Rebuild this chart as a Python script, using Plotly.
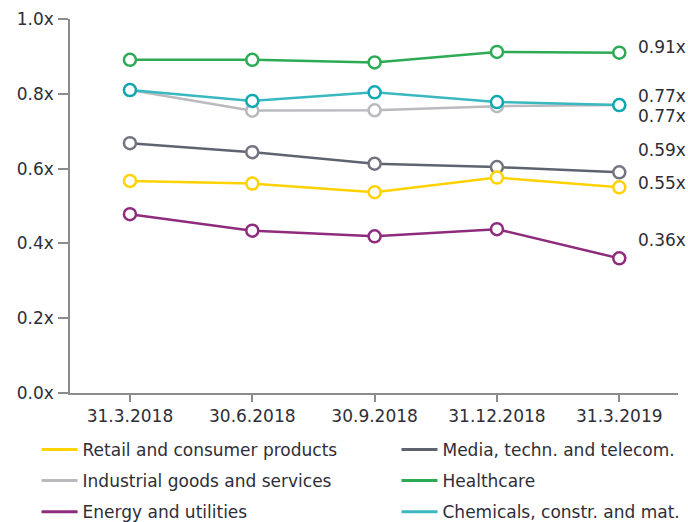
import plotly.graph_objects as go

dates = ["31.3.2018", "30.6.2018", "30.9.2018", "31.12.2018", "31.3.2019"]

retail = [0.567, 0.560, 0.537, 0.576, 0.55]
media = [0.668, 0.644, 0.613, 0.604, 0.59]
industrial = [0.810, 0.755, 0.756, 0.767, 0.77]
healthcare = [0.891, 0.891, 0.884, 0.912, 0.91]
energy = [0.478, 0.434, 0.419, 0.438, 0.36]
chemicals = [0.810, 0.781, 0.804, 0.778, 0.77]

y_ticks = [0.0, 0.2, 0.4, 0.6, 0.8, 1.0]

FONT = "DejaVu Sans"
FS = 17
TEXT = "#2e2e38"
AXIS = "#8c8c8c"

# name, values, line colour, marker colour, legend, end-label shift (px)
series = [
    ("Industrial goods and services", industrial, "#b9babe", "#b9babe", "legend", -11),
    ("Chemicals, constr. and mat.", chemicals, "#3ab8c0", "#0ea8b2", "legend2", 9),
    ("Media, techn. and telecom.", media, "#5d6470", "#747480", "legend2", 22),
    ("Retail and consumer products", retail, "#ffd200", "#ffd200", "legend", 4),
    ("Energy and utilities", energy, "#8f2b7d", "#8f2b7d", "legend", 18),
    ("Healthcare", healthcare, "#2daa54", "#2daa54", "legend2", 6),
]

# legend entries, listed top to bottom in each column
legend_rows = {
    "legend": ["Retail and consumer products", "Industrial goods and services",
               "Energy and utilities"],
    "legend2": ["Media, techn. and telecom.", "Healthcare",
                "Chemicals, constr. and mat."],
}

fig = go.Figure()
for name, vals, lc, mc, lg, _ in series:
    fig.add_trace(go.Scatter(
        x=dates, y=vals, name=name, mode="lines+markers",
        line=dict(color=lc, width=2.5),
        marker=dict(symbol="circle", size=12, color="white",
                    line=dict(color=mc, width=2.5)),
        showlegend=False,
    ))

# line-only legend keys
colours = {s[0]: s[2] for s in series}
for lg, names in legend_rows.items():
    for rank, name in enumerate(names):
        fig.add_trace(go.Scatter(
            x=[None], y=[None], name=name, mode="lines",
            line=dict(color=colours[name], width=3),
            legend=lg, legendrank=rank + 1, legendgroup=name,
        ))

for name, vals, lc, mc, lg, shift in series:
    fig.add_annotation(
        x=dates[-1], y=vals[-1], xref="x", yref="y",
        text=f"{vals[-1]:.2f}x", showarrow=False,
        xanchor="left", yanchor="middle", xshift=17, yshift=shift,
        font=dict(family=FONT, size=FS, color=TEXT),
    )

legend_style = dict(
    orientation="v", yanchor="top", xanchor="left",
    font=dict(family=FONT, size=FS, color=TEXT),
    itemwidth=36, tracegroupgap=6, bgcolor="rgba(0,0,0,0)",
)

fig.update_layout(
    width=688, height=522,
    margin=dict(l=70, r=10, t=19, b=129, autoexpand=False),
    paper_bgcolor="white", plot_bgcolor="white",
    font=dict(family=FONT, size=FS, color=TEXT),
    showlegend=True,
    legend=dict(x=-0.055, y=-0.104, **legend_style),
    legend2=dict(x=0.537, y=-0.104, **legend_style),
    xaxis=dict(
        type="category", range=[-0.49, 4.48],
        showline=True, linecolor=AXIS, linewidth=1.5,
        ticks="outside", ticklen=7, tickcolor=AXIS, tickwidth=1.5,
        showgrid=False, zeroline=False,
        tickfont=dict(family=FONT, size=FS, color=TEXT),
    ),
    yaxis=dict(
        range=[0, 1], tickvals=y_ticks,
        ticktext=[f"{v:.1f}x" for v in y_ticks],
        showline=True, linecolor=AXIS, linewidth=1.5,
        ticks="outside", ticklen=10, tickcolor=AXIS, tickwidth=1.5,
        ticklabelstandoff=1,
        showgrid=False, zeroline=False,
        tickfont=dict(family=FONT, size=FS, color=TEXT),
    ),
)

fig.write_html("out.html")
